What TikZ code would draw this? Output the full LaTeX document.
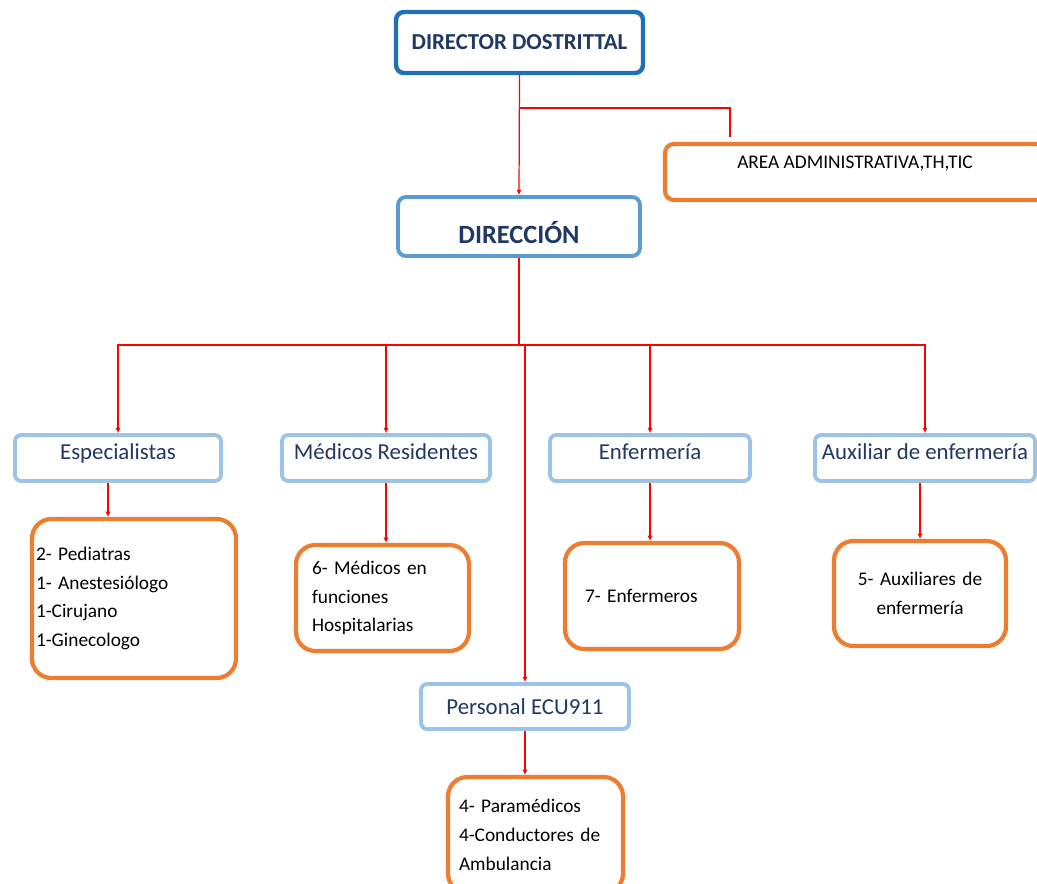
\documentclass[tikz,border=0pt]{standalone}
\usepackage{fontspec}
\setmainfont{Carlito}
\usepackage{tikz}
\usetikzlibrary{arrows.meta}
\definecolor{azulosc}{HTML}{1F70B8}
\definecolor{azulmed}{HTML}{5B9BD5}
\definecolor{azulcla}{HTML}{9DC3E6}
\definecolor{naranja}{HTML}{ED7D31}
\definecolor{marino}{HTML}{1F3864}
\tikzset{
	jefe/.style={draw=azulosc, line width=2.5pt, rounded corners=4.5pt, fill=white, text=marino, font=\fontsize{13}{15}\selectfont\bfseries},
	direc/.style={draw=azulmed, line width=2.2pt, rounded corners=4.5pt, fill=white, text=marino, font=\fontsize{15}{18}\selectfont\bfseries, text height=0.68cm, text depth=0cm},
	area/.style={draw=azulcla, line width=2.2pt, rounded corners=3.5pt, fill=white, text=marino, font=\fontsize{13}{15}\selectfont, minimum height=0.92cm},
	detalle/.style={draw=naranja, line width=2.4pt, rounded corners=11pt, fill=white, text=black, font=\fontsize{11}{16.4}\selectfont},
	enlace/.style={red, line width=0.7pt},
	flecha/.style={enlace, -{Latex[length=3pt,width=3pt]}}
}
\begin{document}
\begin{tikzpicture}[x=0.02cm, y=-0.02cm]
				%Marco
				\clip (0,0) rectangle (1037,883);
				\fill[white] (0,0) rectangle (1037,883);
				%Direccion
				\node[jefe, minimum width=4.94cm, minimum height=1.22cm] (dir) at (519.5,42.5) {DIRECTOR DOSTRITTAL};
				\node[detalle, rounded corners=5pt, minimum width=7.6cm, minimum height=1.12cm, font=\fontsize{11}{13}\selectfont, text height=0.25cm, text depth=0.40cm] (adm) at (855,172) {AREA ADMINISTRATIVA,TH,TIC};
				\node[direc, minimum width=4.84cm, minimum height=1.18cm] (dcc) at (519,226.5) {DIRECCIÓN};
				%Areas
				\node[area, minimum width=4.12cm, text height=0.3cm, text depth=0.26cm] (esp) at (118,458) {Especialistas};
				\node[area, minimum width=4.16cm, text height=0.3cm, text depth=0.26cm] (med) at (386,458) {Médicos Residentes};
				\node[area, minimum width=4.0cm, text height=0.3cm, text depth=0.26cm] (enf) at (650,458) {Enfermería};
				\node[area, minimum width=4.4cm, text height=0.3cm, text depth=0.26cm] (aux) at (925,458) {Auxiliar de enfermería};
				\node[area, minimum width=4.16cm, minimum height=0.9cm] (ecu) at (525,706.5) {Personal ECU911};
				%Personal
				\node[detalle, minimum height=3.18cm, inner xsep=0.08cm, text width=3.92cm, align=left] (spc) at (134,598.5) {2- Pediatras\\1- Anestesiólogo\\1-Cirujano\\1-Ginecologo};
				\node[detalle, minimum height=2.12cm, inner xsep=0.32cm, text width=2.82cm, align=left] (mdd) at (382.5,598) {6- Médicos en\\funciones\\Hospitalarias};
				\node[detalle, minimum height=2.12cm, inner xsep=0.4cm, text width=2.68cm, align=left] (end) at (652,596) {7- Enfermeros};
				\node[detalle, minimum height=2.1cm, inner xsep=0.2cm, text width=3.04cm, align=center] (axd) at (920,593.5) {5- Auxiliares de\\enfermería};
				\node[detalle, minimum height=2.32cm, inner xsep=0.22cm, text width=3.06cm, align=left] (par) at (535.5,835) {4- Paramédicos\\4-Conductores de\\Ambulancia};
				%Conectores
				\coordinate (j1) at (519.5,108);
				\coordinate (admTop) at (730,137);
				\coordinate (bus) at (519,345);
				\draw[flecha] (dir.south) -- (dcc.north);
				\draw[enlace] (j1) -| (admTop);
				\draw[enlace] (dcc.south) -- (bus);
				\draw[flecha] (bus) -| (esp.north);
				\draw[flecha] (bus) -| (med.north);
				\draw[flecha] (bus) -| (enf.north);
				\draw[flecha] (bus) -| (aux.north);
				\draw[flecha] (bus) -| (ecu.north);
				\draw[flecha] (esp.south -| 108,0) -- (spc.north -| 108,0);
				\draw[flecha] (med.south) -- (med.south |- mdd.north);
				\draw[flecha] (enf.south) -- (enf.south |- end.north);
				\draw[flecha] (aux.south -| axd.north) -- (axd.north);
				\draw[flecha] (ecu.south) -- (ecu.south |- par.north);
\end{tikzpicture}
\end{document}
